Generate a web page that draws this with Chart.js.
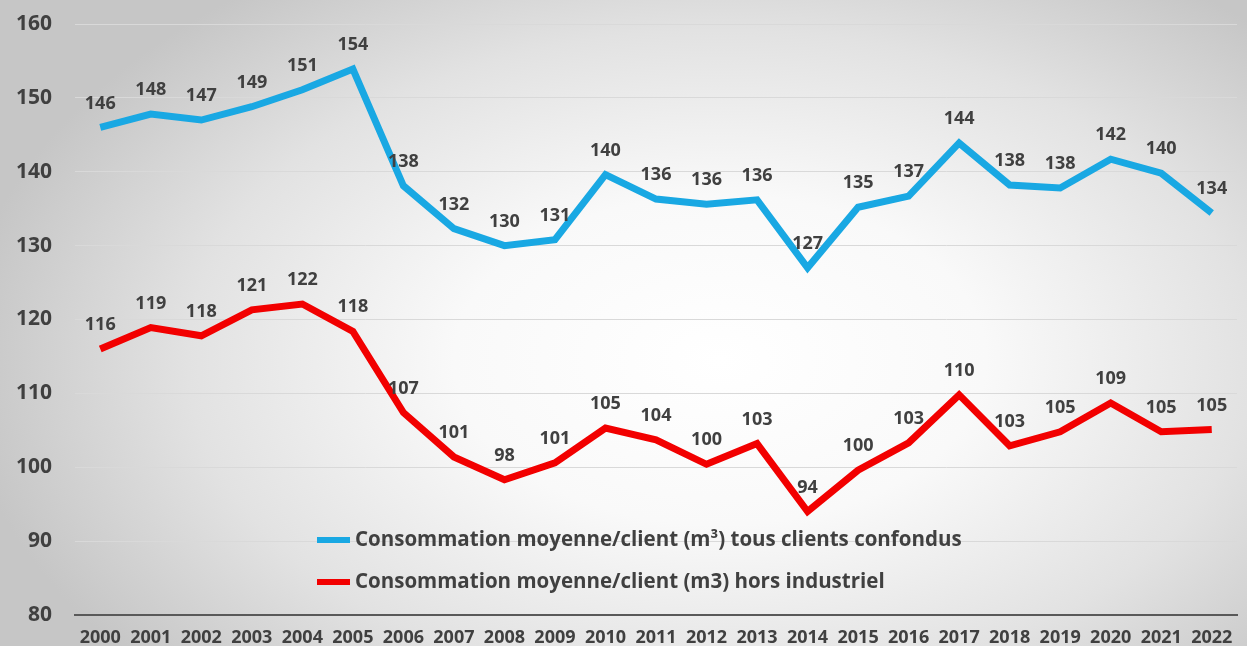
<!DOCTYPE html>
<html>
<head>
<meta charset="utf-8">
<script src="https://cdn.jsdelivr.net/npm/chart.js@4/dist/chart.umd.min.js"></script>
<style>
  html, body { margin: 0; padding: 0; background: #e8e8e8; }
  #wrap { width: 1247px; height: 646px; position: relative; }
</style>
</head>
<body>
<div id="wrap"><canvas id="conso"></canvas></div>
<script>
const years = ['2000', '2001', '2002', '2003', '2004', '2005', '2006', '2007', '2008', '2009', '2010',
  '2011', '2012', '2013', '2014', '2015', '2016', '2017', '2018', '2019', '2020', '2021', '2022'];

// consommation moyenne / client (m3), tous clients confondus
const tousClients = [146.0, 147.8, 147.0, 148.8, 151.1, 153.9, 138.1, 132.3, 130.0, 130.8, 139.6,
  136.3, 135.6, 136.2, 127.0, 135.2, 136.7, 143.9, 138.2, 137.8, 141.7, 139.8, 134.4];

// consommation moyenne / client (m3), hors industriel
const horsIndustriel = [116.0, 118.9, 117.8, 121.3, 122.1, 118.4, 107.4, 101.4, 98.3, 100.6, 105.3,
  103.7, 100.4, 103.2, 94.0, 99.6, 103.3, 109.8, 102.9, 104.8, 108.7, 104.8, 105.1];

const labelTous = 'Consommation moyenne/client (m³) tous clients confondus';
const labelHors = 'Consommation moyenne/client (m3) hors industriel';

const textColor = '#404040';
const fontFam = '"Open Sans", "DejaVu Sans", sans-serif';

// fond gris avec centre clair
const fond = {
  id: 'fond',
  beforeDraw(chart) {
    const ctx = chart.ctx;
    const w = chart.width, h = chart.height;
    ctx.save();
    ctx.fillStyle = '#d2d2d2';
    ctx.fillRect(0, 0, w, h);
    ctx.translate(720, 360);
    ctx.scale(1, 0.62);
    const g = ctx.createRadialGradient(0, 0, 0, 0, 0, 760);
    g.addColorStop(0, '#ffffff');
    g.addColorStop(0.35, '#f9f9f9');
    g.addColorStop(0.7, '#e2e2e2');
    g.addColorStop(1, '#c6c6c6');
    ctx.fillStyle = g;
    ctx.fillRect(-900, -900, 1800, 1800);
    ctx.restore();
  }
};

// valeurs au-dessus des points
const valeurs = {
  id: 'valeurs',
  afterDatasetsDraw(chart) {
    const ctx = chart.ctx;
    ctx.save();
    ctx.font = 'bold 18px ' + fontFam;
    ctx.fillStyle = textColor;
    ctx.textAlign = 'center';
    ctx.textBaseline = 'middle';
    chart.data.datasets.forEach((ds, i) => {
      chart.getDatasetMeta(i).data.forEach((pt, j) => {
        ctx.fillText(Math.round(ds.data[j]), pt.x, pt.y - 24);
      });
    });
    ctx.restore();
  }
};

// légende dans la zone du graphique
const legende = {
  id: 'legende',
  afterDraw(chart) {
    const ctx = chart.ctx;
    ctx.save();
    ctx.font = 'bold 20.5px ' + fontFam;
    ctx.textBaseline = 'middle';
    const x0 = 317;
    const rows = [540, 582];
    chart.data.datasets.forEach((ds, i) => {
      const y = rows[i];
      ctx.fillStyle = ds.borderColor;
      ctx.fillRect(x0, y - 3, 33, 6);
      ctx.fillStyle = textColor;
      ctx.fillText(ds.label, x0 + 38, y);
    });
    ctx.restore();
  }
};

new Chart(document.getElementById('conso'), {
  type: 'line',
  data: {
    labels: years,
    datasets: [
      {
        label: labelTous,
        data: tousClients,
        borderColor: '#19a8e3',
        borderWidth: 7,
        pointRadius: 0,
        tension: 0
      },
      {
        label: labelHors,
        data: horsIndustriel,
        borderColor: '#f20000',
        borderWidth: 7,
        pointRadius: 0,
        tension: 0
      }
    ]
  },
  options: {
    responsive: true,
    maintainAspectRatio: false,
    animation: false,
    layout: { padding: { top: 24, right: 10, left: 0, bottom: 0 } },
    plugins: {
      legend: { display: false },
      tooltip: { enabled: false }
    },
    scales: {
      x: {
        offset: true,
        grid: { display: false, drawTicks: false },
        border: { display: true, color: '#595959', width: 2 },
        ticks: {
          color: textColor,
          font: { family: fontFam, size: 18, weight: 'bold' },
          padding: 12,
          maxRotation: 0,
          autoSkip: false
        },
        afterFit(scale) {
          scale.height = 31;
          scale.paddingLeft = 0;
          scale.paddingRight = 0;
        }
      },
      y: {
        min: 80,
        max: 160,
        grid: { color: '#d9d9d9', lineWidth: 1, drawTicks: false },
        border: { display: false },
        ticks: {
          stepSize: 10,
          color: textColor,
          font: { family: fontFam, size: 21, weight: 'bold' },
          padding: 23
        },
        afterFit(scale) {
          scale.width = 75;
          scale.paddingTop = 0;
          scale.paddingBottom = 0;
        }
      }
    }
  },
  plugins: [fond, valeurs, legende]
});
</script>
</body>
</html>
